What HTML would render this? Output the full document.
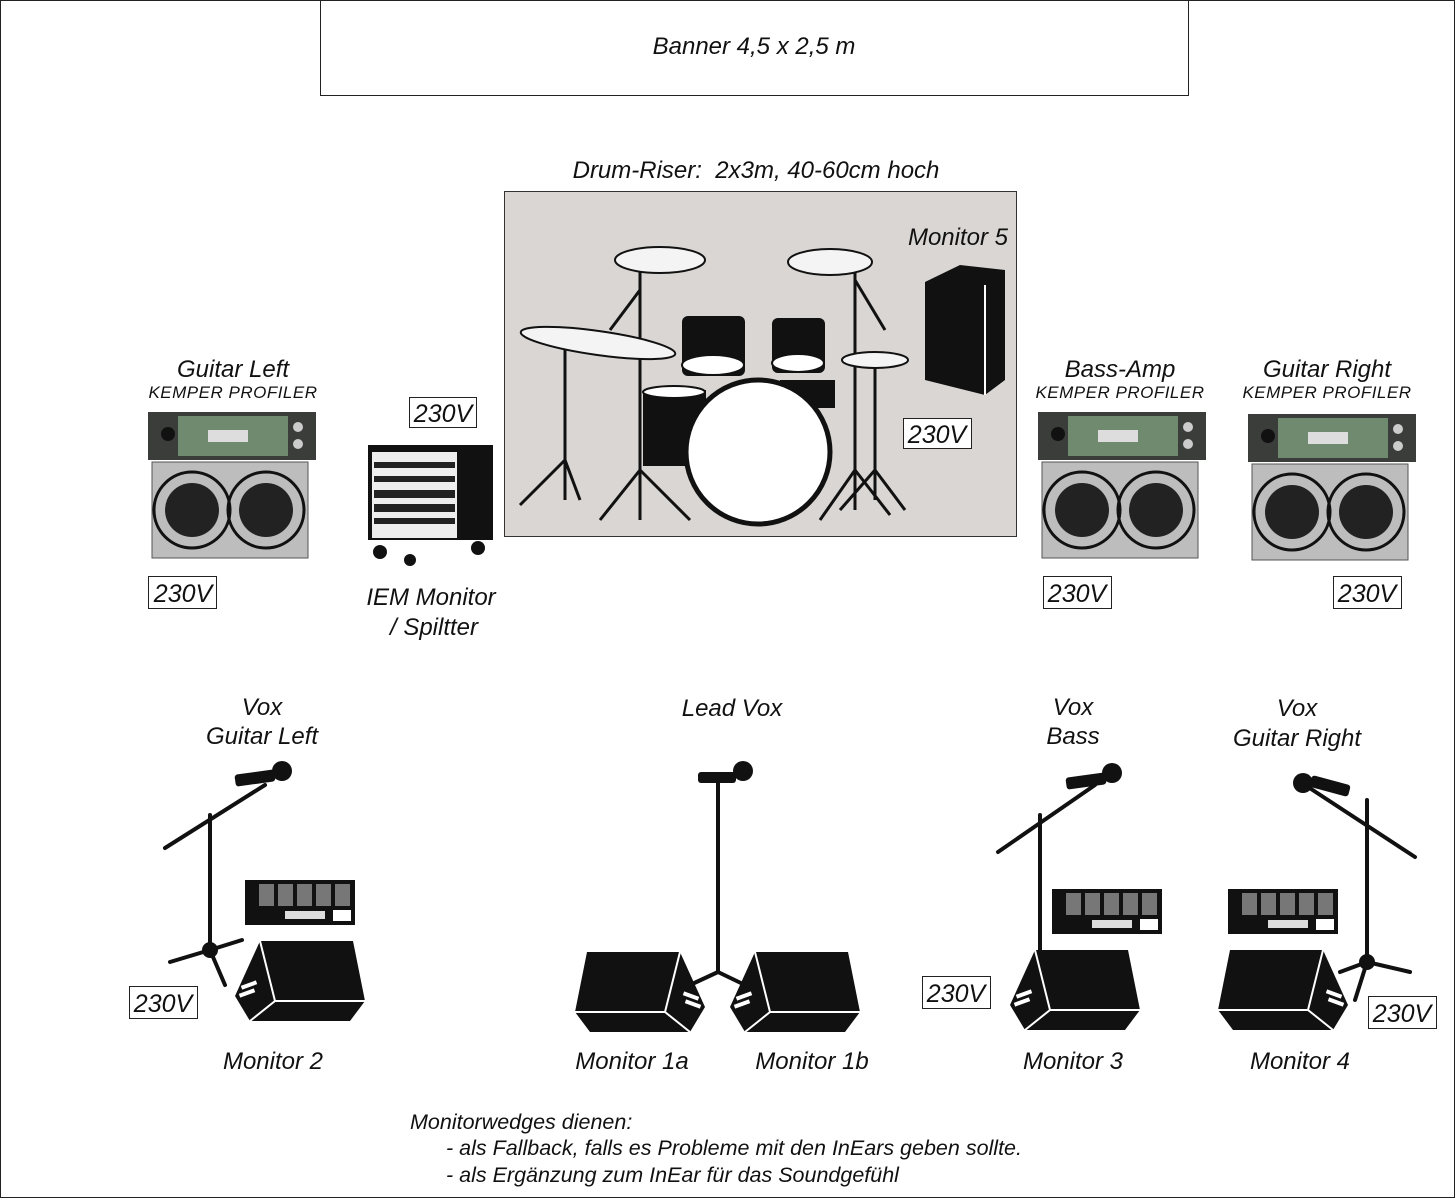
<!DOCTYPE html>
<html><head><meta charset="utf-8"><style>
body{margin:0;background:#fff}
svg{display:block}
text{font-family:"Liberation Sans",Arial,sans-serif;font-style:italic;fill:#111}
</style></head><body>
<svg width="1456" height="1200" viewBox="0 0 1456 1200" xmlns="http://www.w3.org/2000/svg">
<defs>
<g id="amp">
 <rect x="0" y="0" width="168" height="48" fill="#3b3d3b"/>
 <rect x="30" y="4" width="110" height="40" fill="#6f8a6f"/>
 <rect x="60" y="18" width="40" height="12" fill="#ddd"/>
 <circle cx="20" cy="22" r="7" fill="#111"/>
 <circle cx="150" cy="15" r="5" fill="#ccc"/><circle cx="150" cy="32" r="5" fill="#ccc"/>
 <rect x="4" y="50" width="156" height="96" fill="#bdbdbd" stroke="#555"/>
 <circle cx="44" cy="98" r="38" fill="none" stroke="#111" stroke-width="3"/>
 <circle cx="44" cy="98" r="27" fill="#222"/>
 <circle cx="118" cy="98" r="38" fill="none" stroke="#111" stroke-width="3"/>
 <circle cx="118" cy="98" r="27" fill="#222"/>
</g>
<g id="wedgeL">
 <polygon points="25,0 118,0 130,60 115,80 15,80 0,55" fill="#111"/>
 <polyline points="25,0 40,60 15,80" fill="none" stroke="#fff" stroke-width="2"/>
 <line x1="40" y1="60" x2="130" y2="60" stroke="#fff" stroke-width="2"/>
 <rect x="6" y="42" width="16" height="4" fill="#fff" transform="rotate(-20 14 44)"/>
 <rect x="4" y="50" width="16" height="4" fill="#fff" transform="rotate(-20 12 52)"/>
</g>
<g id="pedal">
 <rect x="0" y="0" width="110" height="45" fill="#111"/>
 <rect x="14" y="4" width="15" height="22" fill="#777"/><rect x="33" y="4" width="15" height="22" fill="#777"/>
 <rect x="52" y="4" width="15" height="22" fill="#777"/><rect x="71" y="4" width="15" height="22" fill="#777"/>
 <rect x="90" y="4" width="15" height="22" fill="#777"/>
 <rect x="88" y="30" width="18" height="11" fill="#fff"/>
 <rect x="40" y="31" width="40" height="8" fill="#ddd"/>
</g>
</defs>
<rect x="0.5" y="0.5" width="1454" height="1197" fill="none" stroke="#222"/>
<rect x="320.5" y="0.5" width="868" height="95" fill="none" stroke="#222"/>
<text x="754" y="54" font-size="24" text-anchor="middle">Banner 4,5 x 2,5 m</text>

<text x="756" y="178" font-size="24" text-anchor="middle" xml:space="preserve">Drum-Riser:  2x3m, 40-60cm hoch</text>
<rect x="504.5" y="191.5" width="512" height="345" fill="#d9d6d3" stroke="#333"/>
<text x="958" y="245" font-size="24" text-anchor="middle">Monitor 5</text>
<polygon points="925,282 960,265 1005,270 1005,380 985,395 925,380" fill="#111"/>
<line x1="985" y1="285" x2="985" y2="395" stroke="#fff" stroke-width="2"/>
<g stroke="#111" stroke-width="3" fill="none">
 <line x1="640" y1="270" x2="640" y2="520"/><line x1="640" y1="470" x2="600" y2="520"/><line x1="640" y1="470" x2="690" y2="520"/>
 <line x1="855" y1="270" x2="855" y2="510"/><line x1="855" y1="470" x2="820" y2="520"/><line x1="855" y1="470" x2="890" y2="515"/>
 <line x1="565" y1="340" x2="565" y2="500"/><line x1="565" y1="460" x2="520" y2="505"/><line x1="565" y1="460" x2="580" y2="500"/>
 <line x1="875" y1="365" x2="875" y2="500"/><line x1="875" y1="470" x2="840" y2="510"/><line x1="875" y1="470" x2="905" y2="510"/>
 <line x1="855" y1="280" x2="885" y2="330"/><line x1="640" y1="290" x2="610" y2="330"/>
</g>
<ellipse cx="660" cy="260" rx="45" ry="13" fill="#f4f4f4" stroke="#111" stroke-width="2"/>
<ellipse cx="830" cy="262" rx="42" ry="13" fill="#f4f4f4" stroke="#111" stroke-width="2"/>
<ellipse cx="598" cy="343" rx="78" ry="12" fill="#f4f4f4" stroke="#111" stroke-width="2" transform="rotate(8 598 343)"/>
<ellipse cx="875" cy="360" rx="33" ry="8" fill="#f4f4f4" stroke="#111" stroke-width="2"/>
<rect x="682" y="316" width="63" height="60" rx="6" fill="#111"/><ellipse cx="713" cy="365" rx="31" ry="10" fill="#fff" stroke="#111" stroke-width="2"/>
<rect x="772" y="318" width="53" height="55" rx="6" fill="#111"/><ellipse cx="798" cy="363" rx="26" ry="9" fill="#fff" stroke="#111" stroke-width="2"/>
<rect x="643" y="390" width="63" height="76" fill="#111"/><ellipse cx="674" cy="392" rx="31" ry="6" fill="#fff" stroke="#111" stroke-width="2"/>
<rect x="780" y="380" width="55" height="28" fill="#111"/>
<circle cx="758" cy="452" r="72" fill="#fff" stroke="#111" stroke-width="5"/>

<text x="233" y="377" font-size="24" text-anchor="middle">Guitar Left</text>
<text x="233" y="398" font-size="17" text-anchor="middle" letter-spacing="0.5">KEMPER PROFILER</text>
<use href="#amp" x="148" y="412"/>
<text x="1120" y="377" font-size="24" text-anchor="middle">Bass-Amp</text>
<text x="1120" y="398" font-size="17" text-anchor="middle" letter-spacing="0.5">KEMPER PROFILER</text>
<use href="#amp" x="1038" y="412"/>
<text x="1327" y="377" font-size="24" text-anchor="middle">Guitar Right</text>
<text x="1327" y="398" font-size="17" text-anchor="middle" letter-spacing="0.5">KEMPER PROFILER</text>
<use href="#amp" x="1248" y="414"/>

<rect x="368" y="445" width="125" height="95" fill="#111"/>
<rect x="372" y="452" width="85" height="86" fill="#eee"/>
<g fill="#222"><rect x="374" y="462" width="81" height="6"/><rect x="374" y="476" width="81" height="6"/><rect x="374" y="490" width="81" height="8"/><rect x="374" y="504" width="81" height="8"/><rect x="374" y="518" width="81" height="6"/></g>
<circle cx="380" cy="552" r="7" fill="#111"/><circle cx="478" cy="548" r="7" fill="#111"/><circle cx="410" cy="560" r="6" fill="#111"/>
<text x="431" y="605" font-size="24" text-anchor="middle">IEM Monitor</text>
<text x="434" y="635" font-size="24" text-anchor="middle">/ Spiltter</text>

<g fill="#fff" stroke="#222">
 <rect x="409.5" y="397.5" width="67" height="30"/><rect x="148.5" y="576.5" width="68" height="32"/>
 <rect x="903.5" y="418.5" width="68" height="30"/><rect x="1043.5" y="576.5" width="68" height="32"/>
 <rect x="1333.5" y="576.5" width="68" height="32"/><rect x="129.5" y="986.5" width="68" height="32"/>
 <rect x="922.5" y="976.5" width="68" height="32"/><rect x="1368.5" y="996.5" width="68" height="32"/>
</g>
<g font-size="25" text-anchor="middle">
 <text x="443" y="422">230V</text><text x="183" y="602">230V</text>
 <text x="937" y="443">230V</text><text x="1077" y="602">230V</text>
 <text x="1367" y="602">230V</text><text x="163" y="1012">230V</text>
 <text x="956" y="1002">230V</text><text x="1402" y="1022">230V</text>
</g>

<g font-size="24" text-anchor="middle">
 <text x="262" y="715">Vox</text><text x="262" y="744">Guitar Left</text>
 <text x="732" y="716">Lead Vox</text>
 <text x="1073" y="715">Vox</text><text x="1073" y="744">Bass</text>
 <text x="1297" y="716">Vox</text><text x="1297" y="746">Guitar Right</text>
</g>

<g stroke="#111" stroke-width="4" stroke-linecap="round" fill="none">
 <line x1="210" y1="815" x2="210" y2="950"/><line x1="165" y1="848" x2="265" y2="785"/>
 <line x1="210" y1="950" x2="170" y2="962"/><line x1="210" y1="950" x2="242" y2="940"/><line x1="210" y1="950" x2="225" y2="985"/>
 <line x1="718" y1="780" x2="718" y2="972"/><line x1="718" y1="972" x2="690" y2="985"/><line x1="718" y1="972" x2="745" y2="985"/>
 <line x1="1040" y1="815" x2="1040" y2="955"/><line x1="998" y1="852" x2="1095" y2="785"/>
 <line x1="1367" y1="800" x2="1367" y2="962"/><line x1="1305" y1="785" x2="1415" y2="857"/>
 <line x1="1367" y1="962" x2="1340" y2="972"/><line x1="1367" y1="962" x2="1410" y2="972"/><line x1="1367" y1="962" x2="1355" y2="1000"/>
</g>
<circle cx="210" cy="950" r="8" fill="#111"/><circle cx="1367" cy="962" r="8" fill="#111"/>
<g fill="#111">
 <rect x="235" y="772" width="40" height="12" rx="3" transform="rotate(-8 255 778)"/><circle cx="282" cy="771" r="10"/>
 <rect x="698" y="772" width="38" height="11" rx="3"/><circle cx="743" cy="771" r="10"/>
 <rect x="1066" y="775" width="40" height="12" rx="3" transform="rotate(-8 1086 781)"/><circle cx="1112" cy="773" r="10"/>
 <rect x="1310" y="780" width="40" height="12" rx="3" transform="rotate(15 1330 786)"/><circle cx="1303" cy="783" r="10"/>
</g>

<use href="#pedal" x="245" y="880"/>
<use href="#pedal" x="1052" y="889"/>
<use href="#pedal" x="1228" y="889"/>

<use href="#wedgeL" x="235" y="941"/>
<use href="#wedgeL" transform="translate(705,952) scale(-1,1)"/>
<use href="#wedgeL" x="730" y="952"/>
<use href="#wedgeL" x="1010" y="950"/>
<use href="#wedgeL" transform="translate(1348,950) scale(-1,1)"/>

<g font-size="24" text-anchor="middle">
 <text x="273" y="1069">Monitor 2</text><text x="632" y="1069">Monitor 1a</text>
 <text x="812" y="1069">Monitor 1b</text><text x="1073" y="1069">Monitor 3</text>
 <text x="1300" y="1069">Monitor 4</text>
</g>
<g font-size="21.5">
 <text x="410" y="1129">Monitorwedges dienen:</text>
 <text x="446" y="1155">- als Fallback, falls es Probleme mit den InEars geben sollte.</text>
 <text x="446" y="1182">- als Ergänzung zum InEar für das Soundgefühl</text>
</g>
</svg>
</body></html>
